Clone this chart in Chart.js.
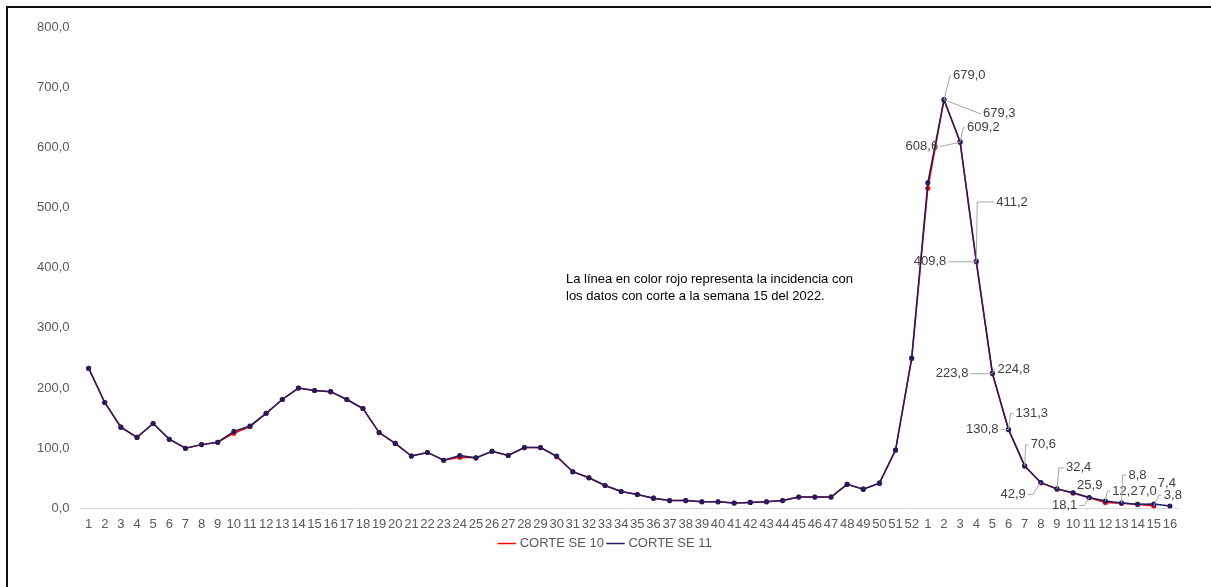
<!DOCTYPE html>
<html>
<head>
<meta charset="utf-8">
<script src="https://cdn.jsdelivr.net/npm/chart.js@4.4.1/dist/chart.umd.min.js"></script>
<style>
  html, body { margin: 0; padding: 0; background: #fff; }
  #wrap { position: relative; width: 1211px; height: 587px; }
  #frame { position: absolute; left: 6px; top: 6px; right: 0; bottom: 0;
           border-left: 2px solid #111; border-top: 2px solid #111; }
  canvas { position: absolute; left: 0; top: 0; }
</style>
</head>
<body>
<div id="wrap">
  <div id="frame"></div>
  <canvas id="incidencia" width="1211" height="587"></canvas>
</div>
<script>
let semanas = [];
for (let s = 1; s <= 52; s++) semanas.push(String(s));
for (let s = 1; s <= 16; s++) semanas.push(String(s));

// CORTE SE 10 (rojo)
let corteSE10 = [
    233, 176, 135, 118, 141, 115, 100, 106, 110, 125,
    136, 158, 181, 200, 196, 194, 181, 166, 126, 108,
    87, 93, 80, 85, 84, 95, 88, 101, 101, 86,
    61, 51, 38, 28, 23, 17, 13, 13, 11, 11,
    9, 10, 11, 13, 19, 19, 19, 40, 32, 42,
    97, 249,
    532, 679.0, 608.6, 409.8, 223.8, 130.8, 70.4, 42.7, 32.2, 25.7,
    17.8, 9.8, 8.6, 6.8, 3.8, null
];

// CORTE SE 11 (azul)
let corteSE11 = [
    233, 176, 135, 118, 141, 115, 100, 106, 110, 128,
    137, 158, 181, 200, 196, 194, 181, 166, 126, 108,
    87, 93, 80, 88, 84, 95, 88, 101, 101, 87,
    61, 51, 38, 28, 23, 17, 13, 13, 11, 11,
    9, 10, 11, 13, 19, 19, 19, 40, 32, 42,
    97, 250,
    541, 679.3, 609.2, 411.2, 224.8, 131.3, 70.6, 42.9, 32.4, 25.9,
    18.1, 12.2, 8.8, 7.0, 7.4, 3.8
];

let yTicks = [0, 100, 200, 300, 400, 500, 600, 700, 800];

// etiquetas de datos: serie, indice, desplazamiento del texto y codo de la guia
let etiquetas = [
    { ds: 0, i: 53, dx: 9,   dy: -24, bx: 6 },
    { ds: 1, i: 53, dx: 39,  dy: 14,  bx: 36 },
    { ds: 1, i: 54, dx: 7,   dy: -14, bx: 3 },
    { ds: 0, i: 54, dx: -22, dy: 4,   bx: -18 },
    { ds: 1, i: 55, dx: 20,  dy: -59, bx: 1 },
    { ds: 0, i: 55, dx: -30, dy: 0,   bx: 0 },
    { ds: 1, i: 56, dx: 5,   dy: -4,  bx: 2 },
    { ds: 0, i: 56, dx: -24, dy: 0,   bx: -2 },
    { ds: 1, i: 57, dx: 7,   dy: -16, bx: 2 },
    { ds: 0, i: 57, dx: -10, dy: 0,   bx: -2 },
    { ds: 1, i: 58, dx: 6,   dy: -21, bx: 1 },
    { ds: 1, i: 59, dx: -15, dy: 12,  bx: -8 },
    { ds: 1, i: 60, dx: 9,   dy: -21, bx: 2 },
    { ds: 1, i: 61, dx: 4,   dy: -7,  bx: null },
    { ds: 1, i: 62, dx: -12, dy: 8,   bx: -5 },
    { ds: 1, i: 63, dx: 7,   dy: -10, bx: 2 },
    { ds: 1, i: 64, dx: 7,   dy: -28, bx: 1 },
    { ds: 1, i: 65, dx: 1,   dy: -13, bx: null },
    { ds: 1, i: 66, dx: 4,   dy: -21, bx: null },
    { ds: 0, i: 66, dx: 10,  dy: -11, bx: 5 }
];

const fuente = '"Liberation Sans", Arial, sans-serif';

function fmt(v) {
    return v.toFixed(1).replace('.', ',');
}

const etiquetasPlugin = {
    id: 'etiquetas',
    afterDatasetsDraw(chart) {
        const ctx = chart.ctx;
        ctx.save();
        ctx.font = '13px ' + fuente;
        ctx.textBaseline = 'middle';
        etiquetas.forEach(e => {
            const pt = chart.getDatasetMeta(e.ds).data[e.i];
            const v = chart.data.datasets[e.ds].data[e.i];
            const tx = pt.x + e.dx, ty = pt.y + e.dy;
            if (e.bx !== null) {
                ctx.strokeStyle = '#a6a6a6';
                ctx.lineWidth = 1;
                ctx.beginPath();
                ctx.moveTo(pt.x, pt.y);
                ctx.lineTo(pt.x + e.bx, ty);
                ctx.lineTo(e.dx < 0 ? tx + 2 : tx - 2, ty);
                ctx.stroke();
            }
            ctx.fillStyle = '#404040';
            ctx.textAlign = e.dx < 0 ? 'right' : 'left';
            ctx.fillText(fmt(v), tx, ty);
        });
        // nota
        ctx.fillStyle = '#000';
        ctx.textAlign = 'left';
        ctx.fillText('La línea en color rojo representa la incidencia con', 566, 279);
        ctx.fillText('los datos con corte a la semana 15 del 2022.', 566, 296);
        ctx.restore();
    }
};

const data = {
    labels: semanas,
    datasets: [{
        label: 'CORTE SE 10',
        data: corteSE10,
        borderColor: 'rgb(255, 0, 0)',
        backgroundColor: 'rgb(255, 0, 0)',
        borderWidth: 1.5,
        pointRadius: 1.8,
        pointHoverRadius: 3,
        tension: 0,
        order: 1
    }, {
        label: 'CORTE SE 11',
        data: corteSE11,
        borderColor: 'rgb(32, 30, 96)',
        backgroundColor: 'rgb(32, 30, 96)',
        borderWidth: 1.5,
        pointRadius: 1.8,
        pointHoverRadius: 3,
        tension: 0,
        order: 0
    }]
};

const config = {
    type: 'line',
    data: data,
    options: {
        responsive: false,
        animation: false,
        layout: { padding: { top: 27, left: 34, right: 33, bottom: 27 } },
        plugins: {
            legend: {
                position: 'bottom',
                labels: {
                    sort: (a, b) => a.datasetIndex - b.datasetIndex,
                    usePointStyle: true,
                    pointStyle: 'line',
                    boxWidth: 14,
                    padding: 5,
                    color: '#595959',
                    font: { family: fuente, size: 13 }
                }
            },
            tooltip: { enabled: false }
        },
        scales: {
            x: {
                offset: true,
                grid: { display: false },
                border: { color: '#d9d9d9', width: 1 },
                ticks: {
                    autoSkip: false,
                    maxRotation: 0,
                    padding: 0,
                    color: '#595959',
                    font: { family: fuente, size: 13 }
                }
            },
            y: {
                min: 0,
                max: 800,
                grid: { display: false },
                border: { display: false },
                afterBuildTicks: axis => { axis.ticks = yTicks.map(v => ({ value: v })); },
                ticks: {
                    padding: 3,
                    color: '#595959',
                    font: { family: fuente, size: 13 },
                    callback: v => fmt(v)
                }
            }
        }
    },
    plugins: [etiquetasPlugin]
};

const chart = new Chart(document.getElementById('incidencia'), config);
</script>
</body>
</html>
